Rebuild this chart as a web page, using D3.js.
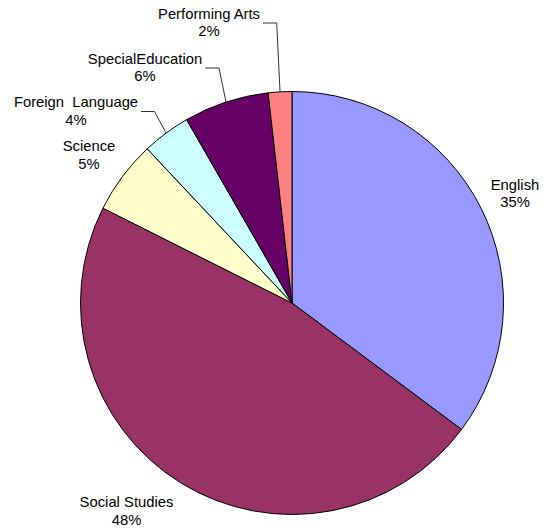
<!DOCTYPE html>
<html>
<head>
<meta charset="utf-8">
<script src="https://cdn.jsdelivr.net/npm/d3@7"></script>
<style>
  html, body { margin: 0; padding: 0; background: #fff; }
  svg { display: block; }
  text { font-family: "Liberation Sans", Arial, sans-serif; font-size: 14.8px; fill: #000; white-space: pre; }
</style>
</head>
<body>
<svg id="chart" width="549" height="529"></svg>
<script>
// ---- data ----
const categories = ["English", "Social Studies", "Science", "Foreign  Language", "SpecialEducation", "Performing Arts"];
const values = [35.2, 47.2, 5.6, 3.7, 6.5, 1.8];
const percentLabels = ["35%", "48%", "5%", "4%", "6%", "2%"];
const colors = ["#9999FF", "#993366", "#FFFFCC", "#CCFFFF", "#660066", "#FF8080"];

// ---- layout (label placement, not data) ----
const cx = 292, cy = 303, radius = 211.5;
const lineGap = 17.8;
// label centre x, first baseline y, optional leader bend x
const labelLayout = [
  { x: 515, y: 189.5 },
  { x: 126.5, y: 507 },
  { x: 89, y: 151 },
  { x: 76, y: 107, bendX: 154.5 },
  { x: 145, y: 63.5, bendX: 219 },
  { x: 209, y: 18.5, bendX: 276.7 }
];

const svg = d3.select("#chart");
const g = svg.append("g").attr("transform", `translate(${cx},${cy})`);

const pie = d3.pie().sort(null).value(d => d.value);
const arc = d3.arc().innerRadius(0).outerRadius(radius);
const data = categories.map((c, i) => ({ name: c, value: values[i], pct: percentLabels[i], color: colors[i], i }));
const arcs = pie(data);

g.selectAll("path.slice")
  .data(arcs)
  .enter().append("path")
  .attr("class", "slice")
  .attr("d", arc)
  .attr("fill", d => d.data.color)
  .attr("stroke", "#000")
  .attr("stroke-width", 1)
  .attr("stroke-linejoin", "round");

// labels
const labels = svg.append("g");
arcs.forEach(a => {
  const L = labelLayout[a.data.i];
  const t = labels.append("text").attr("text-anchor", "middle").attr("xml:space", "preserve");
  t.append("tspan").attr("x", L.x).attr("y", L.y).text(a.data.name);
  t.append("tspan").attr("x", L.x).attr("y", L.y + lineGap).text(a.data.pct);
  if (L.bendX !== undefined) {
    const w = t.select("tspan").node().getComputedTextLength();
    const startX = L.x + w / 2 + 3;
    const ly = L.y + 4.5;
    const mid = (a.startAngle + a.endAngle) / 2;
    const ex = cx + Math.sin(mid) * radius;
    const ey = cy - Math.cos(mid) * radius;
    labels.append("path")
      .attr("d", d3.line()([[startX, ly], [L.bendX, ly], [ex, ey]]))
      .attr("fill", "none")
      .attr("stroke", "#333")
      .attr("stroke-width", 1);
  }
});
</script>
</body>
</html>
